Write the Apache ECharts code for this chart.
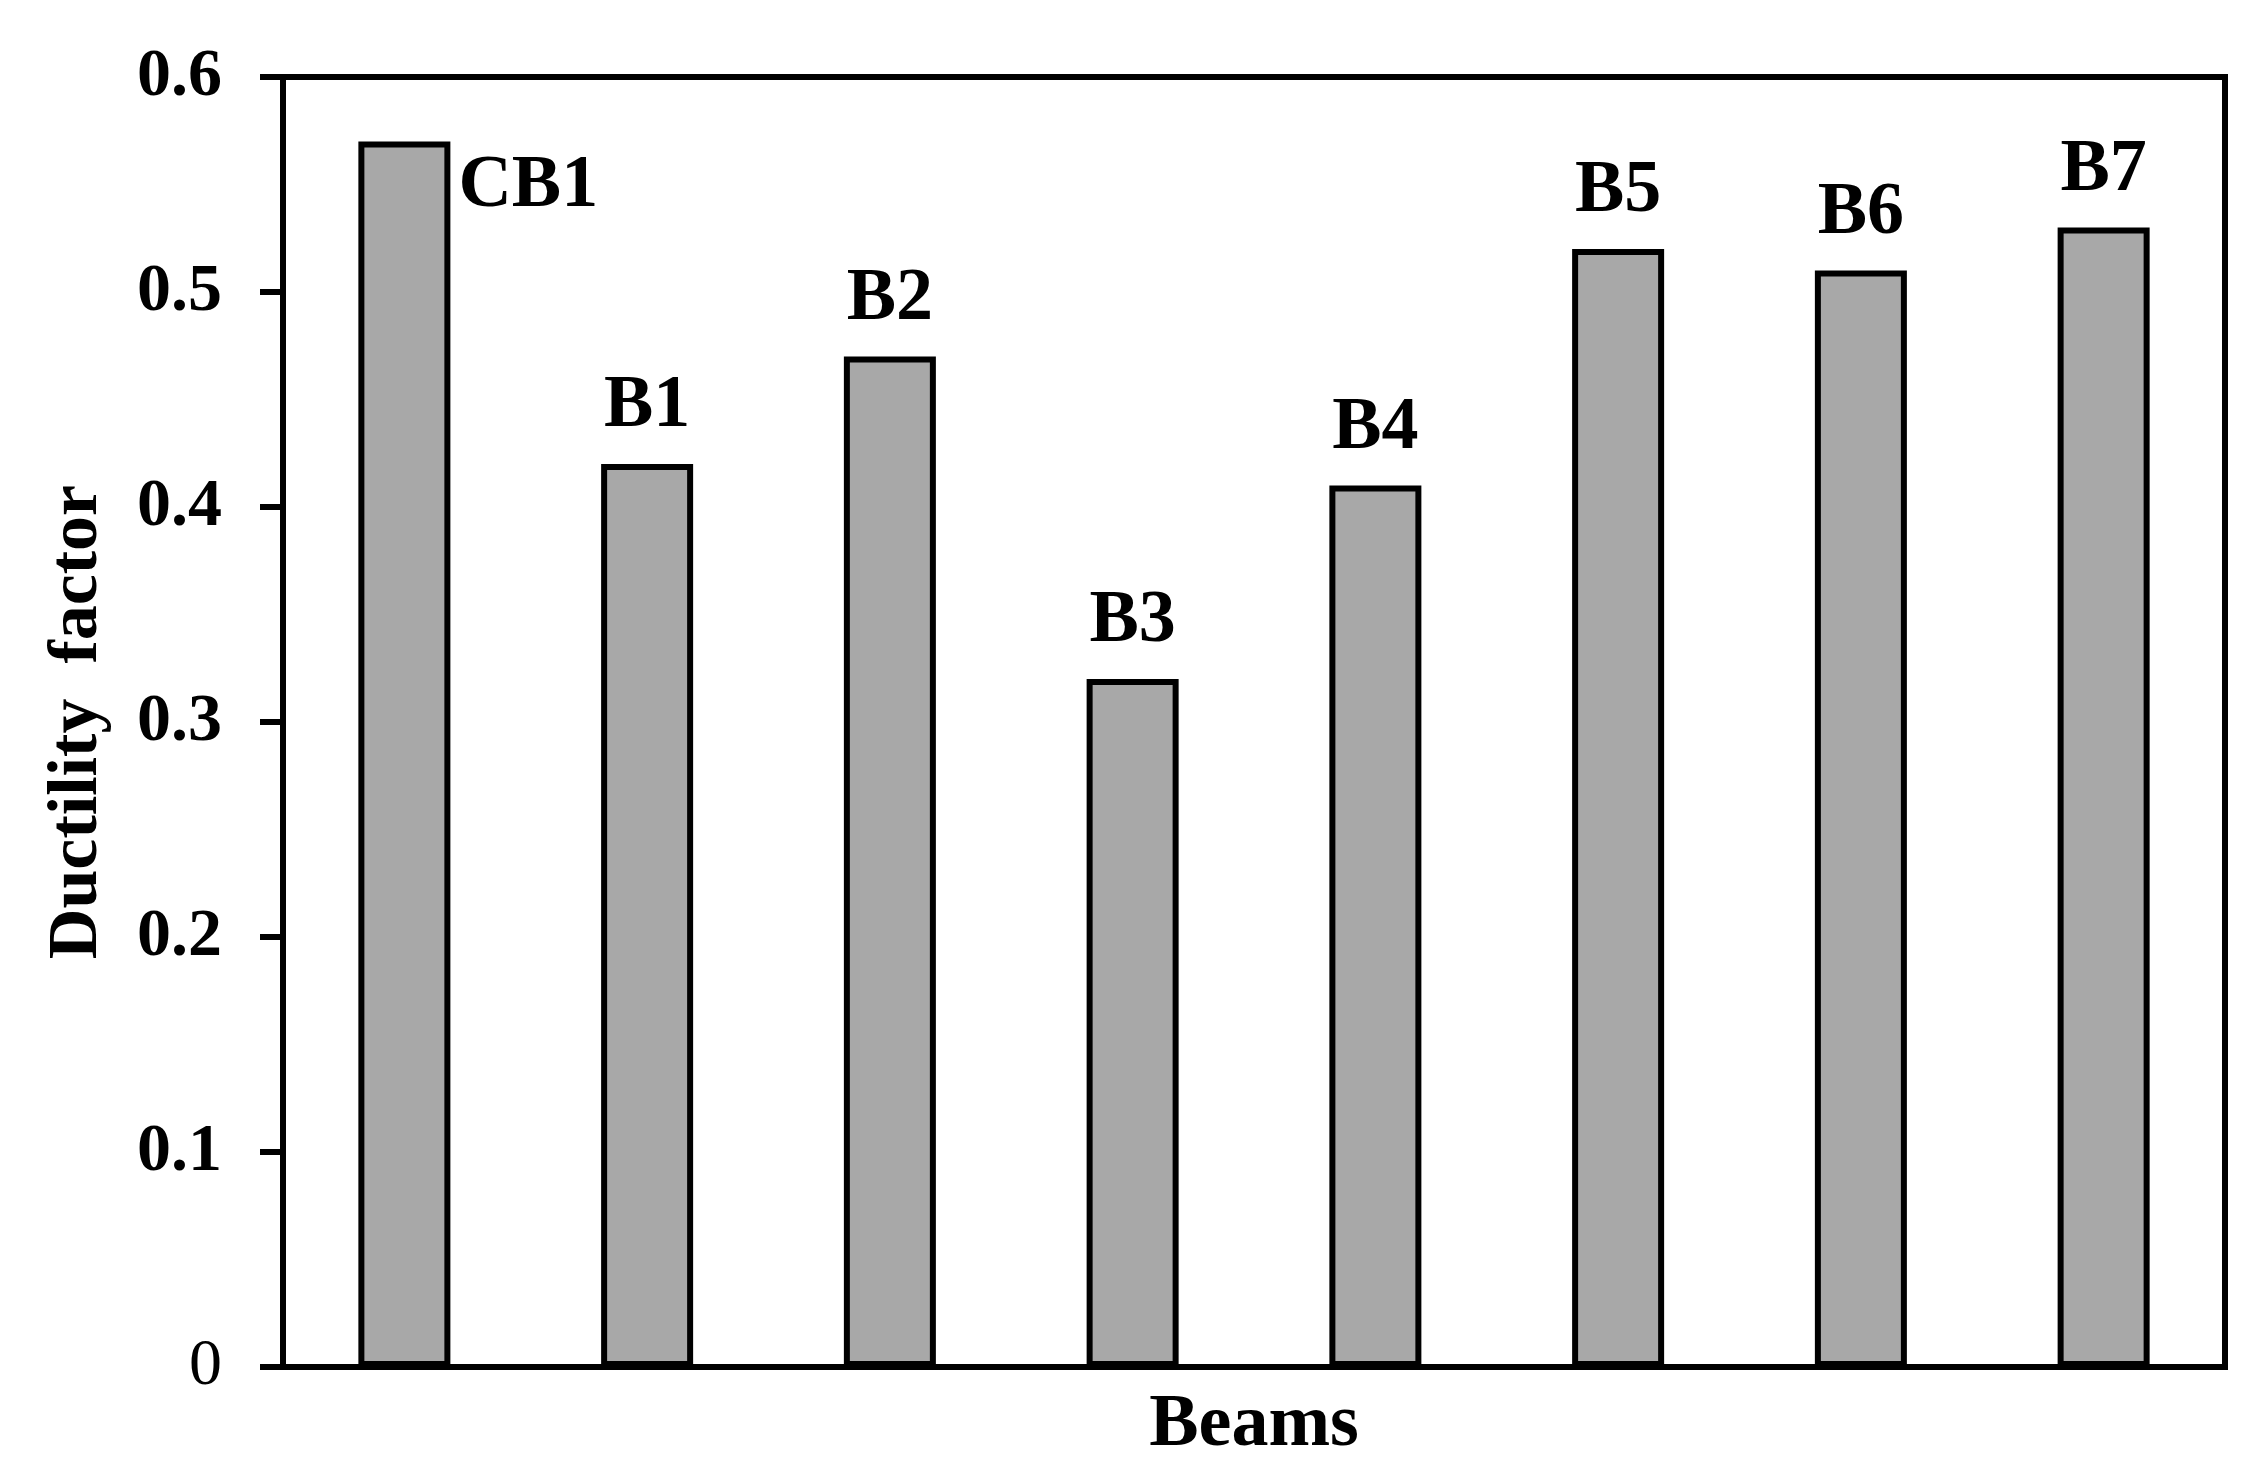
<!DOCTYPE html>
<html>
<head>
<meta charset="utf-8">
<script src="https://cdn.jsdelivr.net/npm/echarts@6/dist/echarts.min.js"></script>
<style>
html,body{margin:0;padding:0;background:#fff;}
#c{width:2266px;height:1473px;}
</style>
</head>
<body>
<div id="c"></div>
<script>
var categories = ['CB1', 'B1', 'B2', 'B3', 'B4', 'B5', 'B6', 'B7'];
var ductility = [0.57, 0.42, 0.47, 0.32, 0.41, 0.52, 0.51, 0.53];
var yTicks = [0, 0.1, 0.2, 0.3, 0.4, 0.5, 0.6];

var FONT = '"Liberation Serif", "Times New Roman", serif';
var chart = echarts.init(document.getElementById('c'));

var data = ductility.map(function (v, i) {
  var item = { value: v };
  if (i === 0) {
    item.label = {
      position: ['100%', 45],
      offset: [8, 0],
      align: 'left',
      verticalAlign: 'middle'
    };
  }
  return item;
});

chart.setOption({
  backgroundColor: '#ffffff',
  animation: false,
  grid: {
    left: 283, right: 41, top: 77, bottom: 106,
    show: true, borderColor: '#000', borderWidth: 6, backgroundColor: 'transparent'
  },
  xAxis: {
    type: 'category',
    data: categories,
    name: 'Beams',
    nameLocation: 'middle',
    nameGap: 22,
    nameTextStyle: { fontFamily: FONT, fontWeight: 'bold', fontSize: 74, color: '#000', verticalAlign: 'top' },
    axisLine: { lineStyle: { color: '#000', width: 6 } },
    axisTick: { show: false },
    axisLabel: { show: false },
    splitLine: { show: false }
  },
  yAxis: {
    type: 'value',
    min: yTicks[0],
    max: yTicks[yTicks.length - 1],
    interval: 0.1,
    name: 'Ductility  factor',
    nameLocation: 'middle',
    nameGap: 170,
    nameTextStyle: { fontFamily: FONT, fontWeight: 'bold', fontSize: 70, color: '#000' },
    axisLine: { show: true, lineStyle: { color: '#000', width: 6 } },
    axisTick: { show: true, length: 23, lineStyle: { color: '#000', width: 6 } },
    axisLabel: {
      margin: 61,
      fontFamily: FONT, fontWeight: 'bold', fontSize: 68, color: '#000',
      formatter: function (v) {
        if (v === 0) return '{n|0}';
        return String(Math.round(v * 10) / 10);
      },
      rich: { n: { fontFamily: FONT, fontWeight: 'normal', fontSize: 66, color: '#000' } }
    },
    splitLine: { show: false }
  },
  series: [{
    type: 'bar',
    data: data,
    barWidth: 92,
    itemStyle: { color: '#a8a8a8', borderColor: '#000', borderWidth: 6 },
    label: {
      show: true,
      position: 'top',
      distance: 20,
      formatter: function (p) { return categories[p.dataIndex]; },
      fontFamily: FONT, fontWeight: 'bold', fontSize: 74, color: '#000'
    }
  }]
});
</script>
</body>
</html>
